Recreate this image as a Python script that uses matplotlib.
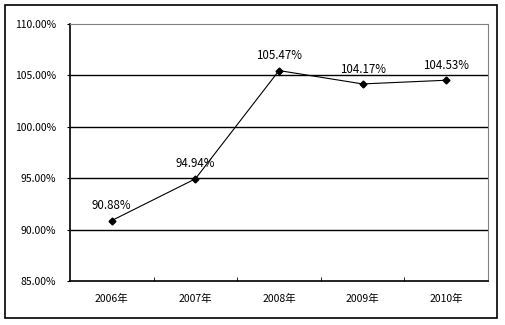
import matplotlib.pyplot as plt
from matplotlib.patches import Rectangle

plt.rcParams['font.family'] = ['Noto Sans CJK SC', 'DejaVu Sans']

years = ["2006年", "2007年", "2008年", "2009年", "2010年"]
rates = [90.88, 94.94, 105.47, 104.17, 104.53]
yticks = [85, 90, 95, 100, 105, 110]

fig = plt.figure(figsize=(5.05, 3.25), dpi=100)
W, H = 505, 325
ax = fig.add_axes([70 / W, 1 - 281 / H, (488 - 70) / W, (281 - 24) / H])

# outer chart border
fig.patches.append(Rectangle((5 / W, 1 - 318 / H), (497 - 5) / W, (318 - 5) / H,
                             transform=fig.transFigure, fill=False,
                             edgecolor="black", linewidth=1.2))

x = list(range(len(years)))
for v in yticks[1:-1]:
    ax.axhline(v, color="black", linewidth=1, zorder=1)
ax.plot(x, rates, color="black", linewidth=0.8, marker="D", markersize=3.5, zorder=3)

for xi, v in zip(x, rates):
    ax.annotate(f"{v:.2f}%", (xi, v), xytext=(0, 6), textcoords="offset points",
                ha="center", va="bottom", fontsize=8.3)

ax.set_xlim(-0.5, len(years) - 0.5)
ax.set_ylim(85, 110)
ax.set_yticks(yticks)
ax.set_yticklabels([f"{v:.2f}%" for v in yticks], fontsize=7.5)
ax.set_xticks(x)
ax.set_xticklabels(years, fontsize=7.5)
ax.tick_params(axis="x", length=0, pad=9)
ax.tick_params(axis="y", length=2, pad=8)
ax.set_xticks([i + 0.5 for i in x], minor=True)
ax.tick_params(axis="x", which="minor", direction="in", length=3)

ax.spines["top"].set_color("gray")
ax.spines["right"].set_color("gray")
ax.spines["left"].set_linewidth(1.2)
ax.spines["bottom"].set_linewidth(1.2)

fig.savefig("out.png", dpi=100)
